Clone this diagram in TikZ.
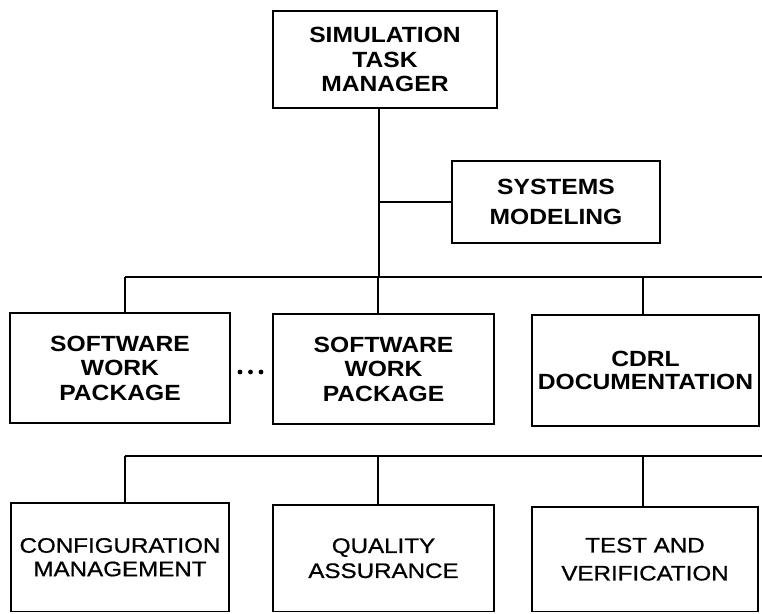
\documentclass[tikz,border=0pt]{standalone}
\usepackage{fontspec}
\newfontfamily\diagb[FakeStretch=1.12]{Liberation Sans}
\newfontfamily\diagr[FakeStretch=1.15,FakeBold=0.8]{Liberation Sans}
\begin{document}
\begin{tikzpicture}[x=1pt,y=-1pt,
  box/.style={draw, line width=1.8pt, inner sep=0pt, align=center,
    font=\diagb\bfseries\fontsize{22}{24.5}\selectfont},
  lowbox/.style={box, font=\diagr\fontsize{21}{23.5}\selectfont},
  wire/.style={line width=1.8pt}]
\useasboundingbox (0,0) rectangle (762,613);
% top
\node[box, minimum width=224pt, minimum height=97pt] (stm) at (385,59.5) {SIMULATION\\TASK\\MANAGER};
\node[box, minimum width=208pt, minimum height=82pt, font=\diagb\bfseries\fontsize{22}{30}\selectfont] (sm) at (556,202) {SYSTEMS\\MODELING};
% middle row
\node[box, minimum width=220pt, minimum height=110pt] (swa) at (120,368) {SOFTWARE\\WORK\\PACKAGE};
\node[box, minimum width=221pt, minimum height=110pt] (swb) at (383.5,369) {SOFTWARE\\WORK\\PACKAGE};
\node[box, minimum width=227pt, minimum height=111pt, font=\diagb\bfseries\fontsize{22}{23.5}\selectfont] (cdrl) at (645.5,370.5) {CDRL\\DOCUMENTATION};
% bottom row
\node[lowbox, minimum width=218pt, minimum height=108.5pt] (cfg) at (120,557.25) {CONFIGURATION\\MANAGEMENT};
\node[lowbox, minimum width=221pt, minimum height=106.5pt, font=\diagr\fontsize{21}{25}\selectfont] (qa) at (383.5,558.25) {QUALITY\\ASSURANCE};
\node[lowbox, minimum width=226pt, minimum height=104.5pt, font=\diagr\fontsize{21}{28}\selectfont] (tv) at (645,559.25) {TEST AND\\VERIFICATION};
% dots
\foreach \dx/\nm in {240/da,250.5/db,261/dc}
  \fill (\dx,372) circle (2.4pt) coordinate (\nm);
% connector coordinates
\coordinate (tr) at (379,277);
\coordinate (bAL) at (125,277);
\coordinate (bAR) at (762,277);
\coordinate (bAM) at (378,277);
\coordinate (bAC) at (643,277);
\coordinate (bBL) at (125,456);
\coordinate (bBR) at (762,456);
\coordinate (bBM) at (378,456);
\coordinate (bBC) at (643,456);
% connectors
\draw[wire] (tr |- stm.south) -- (tr);
\draw[wire] (tr |- sm.west) -- (sm.west);
\draw[wire] (bAL) -- (bAR);
\draw[wire] (bAL) -- (bAL |- swa.north);
\draw[wire] (bAM) -- (bAM |- swb.north);
\draw[wire] (bAC) -- (bAC |- cdrl.north);
\draw[wire] (bBL) -- (bBR);
\draw[wire] (bBL) -- (bBL |- cfg.north);
\draw[wire] (bBM) -- (bBM |- qa.north);
\draw[wire] (bBC) -- (bBC |- tv.north);
\end{tikzpicture}
\end{document}
